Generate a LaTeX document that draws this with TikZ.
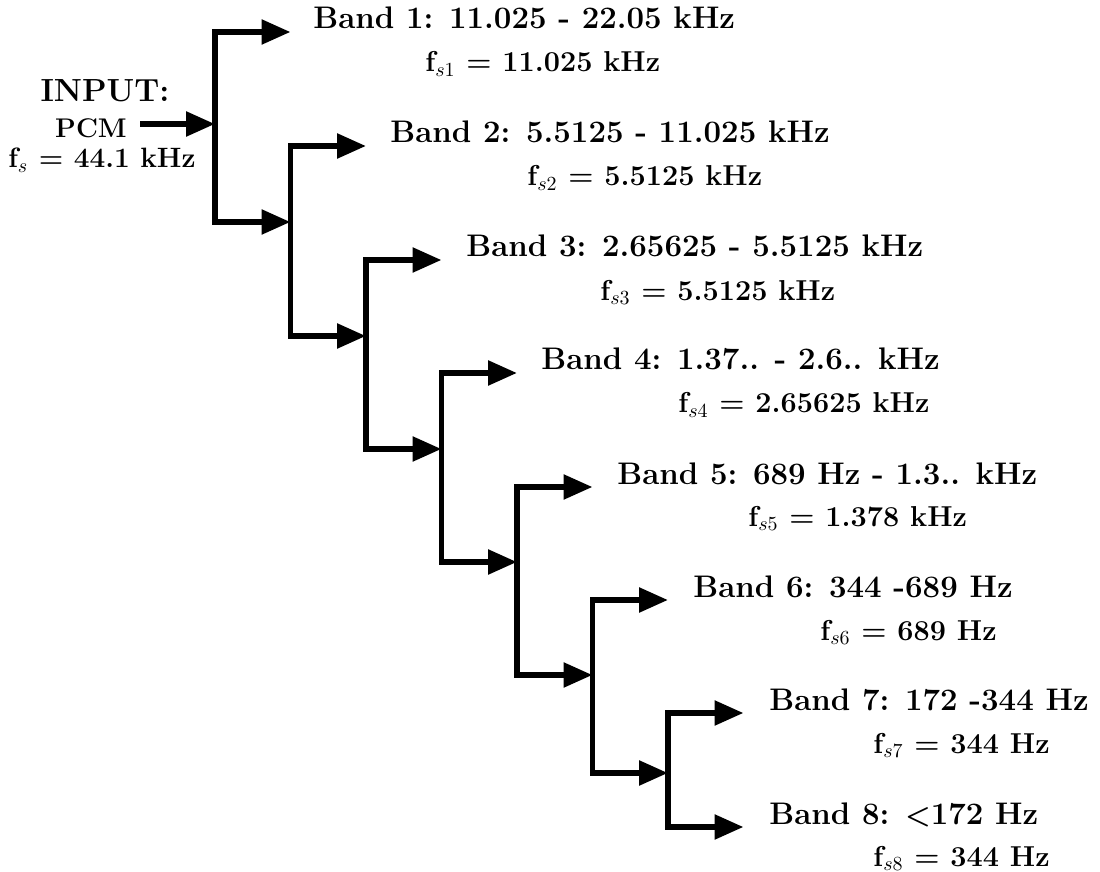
\documentclass[tikz,border=0pt]{standalone}
\usetikzlibrary{arrows.meta}
\begin{document}
\begin{tikzpicture}[x=0.5pt,y=-0.5pt,
  arr/.style={line width=2.8pt,-{Triangle[length=14.5pt,width=12pt]}},
  band/.style={anchor=base west,inner sep=0pt,font=\fontsize{15.6}{18}\selectfont\bfseries},
  fs/.style={anchor=base west,inner sep=0pt,font=\fontsize{14.4}{17}\selectfont\bfseries}]
\useasboundingbox (0,0) rectangle (1100,872);
% junctions
\coordinate (j1) at (215,124);
\coordinate (j2) at (290.5,222);
\coordinate (j3) at (366,336);
\coordinate (j4) at (441.5,449);
\coordinate (j5) at (517,562);
\coordinate (j6) at (592.5,675);
\coordinate (j7) at (668,773);
% band arrow tips
\coordinate (t1) at (290.5,32);
\coordinate (t2) at (366,146);
\coordinate (t3) at (441.5,260);
\coordinate (t4) at (517,373);
\coordinate (t5) at (592.5,487);
\coordinate (t6) at (668,600);
\coordinate (t7) at (743.5,713);
\coordinate (t8) at (743.5,827);
\coordinate (in) at (140,124);
% input text
\node[anchor=base,inner sep=0pt,font=\fontsize{16}{19}\selectfont\bfseries] (inp) at (105,102) {INPUT:};
\node[anchor=base,inner sep=0pt,font=\fontsize{13.5}{16}\selectfont\bfseries] (pcm) at (91,138) {PCM};
\node[anchor=base,inner sep=0pt,font=\fontsize{14}{17}\selectfont\bfseries] (fs0) at (102,168) {f$_s$ = 44.1 kHz};
% connectors
\draw[arr] (in) -- (j1);
\draw[arr] (j1) |- (t1);
\draw[arr] (j1) |- (j2);
\draw[arr] (j2) |- (t2);
\draw[arr] (j2) |- (j3);
\draw[arr] (j3) |- (t3);
\draw[arr] (j3) |- (j4);
\draw[arr] (j4) |- (t4);
\draw[arr] (j4) |- (j5);
\draw[arr] (j5) |- (t5);
\draw[arr] (j5) |- (j6);
\draw[arr] (j6) |- (t6);
\draw[arr] (j6) |- (j7);
\draw[arr] (j7) |- (t7);
\draw[arr] (j7) |- (t8);
% labels
\node[band] (b1) at (313,29) {Band 1: 11.025 - 22.05 kHz};
\node[fs] (f1) at (425,72) {f$_{s1}$ = 11.025 kHz};
\node[band] (b2) at (390,143) {Band 2: 5.5125 - 11.025 kHz};
\node[fs] (f2) at (527,186) {f$_{s2}$ = 5.5125 kHz};
\node[band] (b3) at (466,257) {Band 3: 2.65625 - 5.5125 kHz};
\node[fs] (f3) at (600,300) {f$_{s3}$ = 5.5125 kHz};
\node[band] (b4) at (541,370) {Band 4: 1.37.. - 2.6.. kHz};
\node[fs] (f4) at (678,413) {f$_{s4}$ = 2.65625 kHz};
\node[band] (b5) at (617,484) {Band 5: 689 Hz - 1.3.. kHz};
\node[fs] (f5) at (748,526) {f$_{s5}$ = 1.378 kHz};
\node[band] (b6) at (693,597) {Band 6: 344 -689 Hz};
\node[fs] (f6) at (820,640) {f$_{s6}$ = 689 Hz};
\node[band] (b7) at (769,710) {Band 7: 172 -344 Hz};
\node[fs] (f7) at (873,753) {f$_{s7}$ = 344 Hz};
\node[band] (b8) at (769,824) {Band 8: {\boldmath$<$}172 Hz};
\node[fs] (f8) at (873,866) {f$_{s8}$ = 344 Hz};
\end{tikzpicture}
\end{document}
